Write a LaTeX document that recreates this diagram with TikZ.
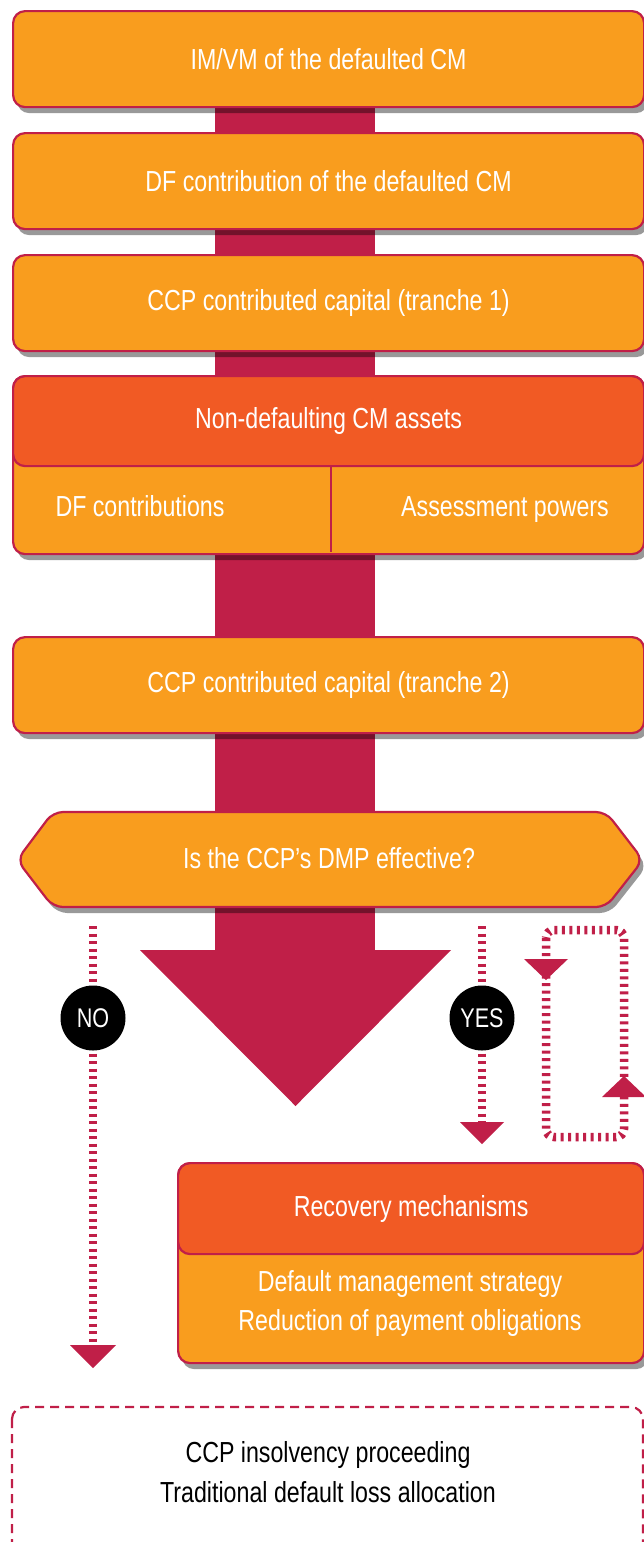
\documentclass[tikz,border=0pt]{standalone}
\usepackage{fontspec}
\setmainfont{Liberation Sans}[FakeStretch=0.8]
\usetikzlibrary{shadows}
\definecolor{bxorange}{HTML}{F99D1E}
\definecolor{bxdark}{HTML}{F15A24}
\definecolor{crim}{HTML}{C01F48}
\begin{document}
\begin{tikzpicture}[x=1pt,y=-1pt,
  shad/.style={drop shadow={shadow xshift=4pt, shadow yshift=-6pt, opacity=0.4, fill=black}},
  box/.style={draw=crim, line width=2.2pt, fill=bxorange, rounded corners=12pt, inner sep=0pt},
  wide/.style={box, shad, anchor=north west, minimum width=631pt},
  head/.style={draw=crim, line width=2.2pt, fill=bxdark, rounded corners=12pt, inner sep=0pt, anchor=north west},
  lbl/.style={text=white, font=\fontsize{29}{39}\selectfont, align=center},
  blk/.style={text=black, font=\fontsize{29}{40}\selectfont, align=center},
  dots/.style={draw=crim, line width=8.5pt, dash pattern=on 3pt off 4.5pt},
  tri/.style={fill=crim},
  badge/.style={circle, fill=black, minimum size=65pt, inner sep=0pt, text=white, font=\fontsize{27}{30}\selectfont}]
\useasboundingbox (0,0) rectangle (644,1542);
\clip (0,0) rectangle (644,1542);

% main crimson arrow
\coordinate (barTop) at (295,58);
\coordinate (barTip) at (295.5,1106);
\fill[crim] (215,58) rectangle (375,952);
\fill[crim] (140,950) -- (451,950) -- (barTip) -- cycle;

% boxes
\node[wide, minimum height=96pt, lbl] (b1) at (12,10) {IM/VM of the defaulted CM};
\node[wide, minimum height=96pt, lbl] (b2) at (12,132) {DF contribution of the defaulted CM};
\node[wide, minimum height=96pt, lbl] (b3) at (12,254) {CCP contributed capital (tranche 1)};

\node[wide, minimum height=178pt] (b4) at (12,375) {};
\node[head, minimum width=631pt, minimum height=90pt, lbl] (b4h) at (12,375) {Non-defaulting CM assets};
\draw[crim, line width=2pt] (331,465) -- (331,552);
\node[lbl, anchor=base] (dfc) at (140,516) {DF contributions};
\node[lbl, anchor=base] (asp) at (505,516) {Assessment powers};

\node[wide, minimum height=96pt, lbl] (b5) at (12,636) {CCP contributed capital (tranche 2)};

% decision hexagon
\draw[box, shad, rounded corners=10pt] (17,860) -- (53,812) -- (606,812) -- (643,860) -- (606,907) -- (53,907) -- cycle;
\node[lbl] (q) at (329,858) {Is the CCP’s DMP effective?};

% NO branch
\coordinate (noTop) at (93,926);
\coordinate (noEnd) at (93,1346);
\draw[dots] (noTop) -- (noEnd);
\fill[tri] (70,1345) -- (116,1345) -- (93,1368) -- cycle;
\node[badge] (no) at (93,1018) {NO};

% YES branch
\coordinate (yesTop) at (482,926);
\coordinate (yesEnd) at (482,1123);
\draw[dots] (yesTop) -- (yesEnd);
\fill[tri] (460,1122) -- (504,1122) -- (482,1144) -- cycle;
\node[badge] (yes) at (482,1018) {YES};

% loop
\coordinate (loopA) at (546,930);
\coordinate (loopB) at (624,1137);
\draw[dots, rounded corners=8pt] (loopA) rectangle (loopB);
\fill[tri] (524,959) -- (568,959) -- (546,980) -- cycle;
\fill[tri] (602,1097) -- (646,1097) -- (624,1076) -- cycle;

% recovery box
\node[box, shad, anchor=north west, minimum width=466pt, minimum height=200pt] (rec) at (177,1162) {};
\node[head, minimum width=466pt, minimum height=91pt, lbl] (rech) at (177,1162) {Recovery mechanisms};
\node[lbl] (recl) at (410,1303) {Default management strategy\\Reduction of payment obligations};

% insolvency dashed box
\draw[crim, line width=2.2pt, dash pattern=on 9pt off 6pt, rounded corners=12pt] (12,1407) rectangle (643,1556);
\node[blk] (ins) at (328,1472) {CCP insolvency proceeding\\Traditional default loss allocation};
\end{tikzpicture}
\end{document}
